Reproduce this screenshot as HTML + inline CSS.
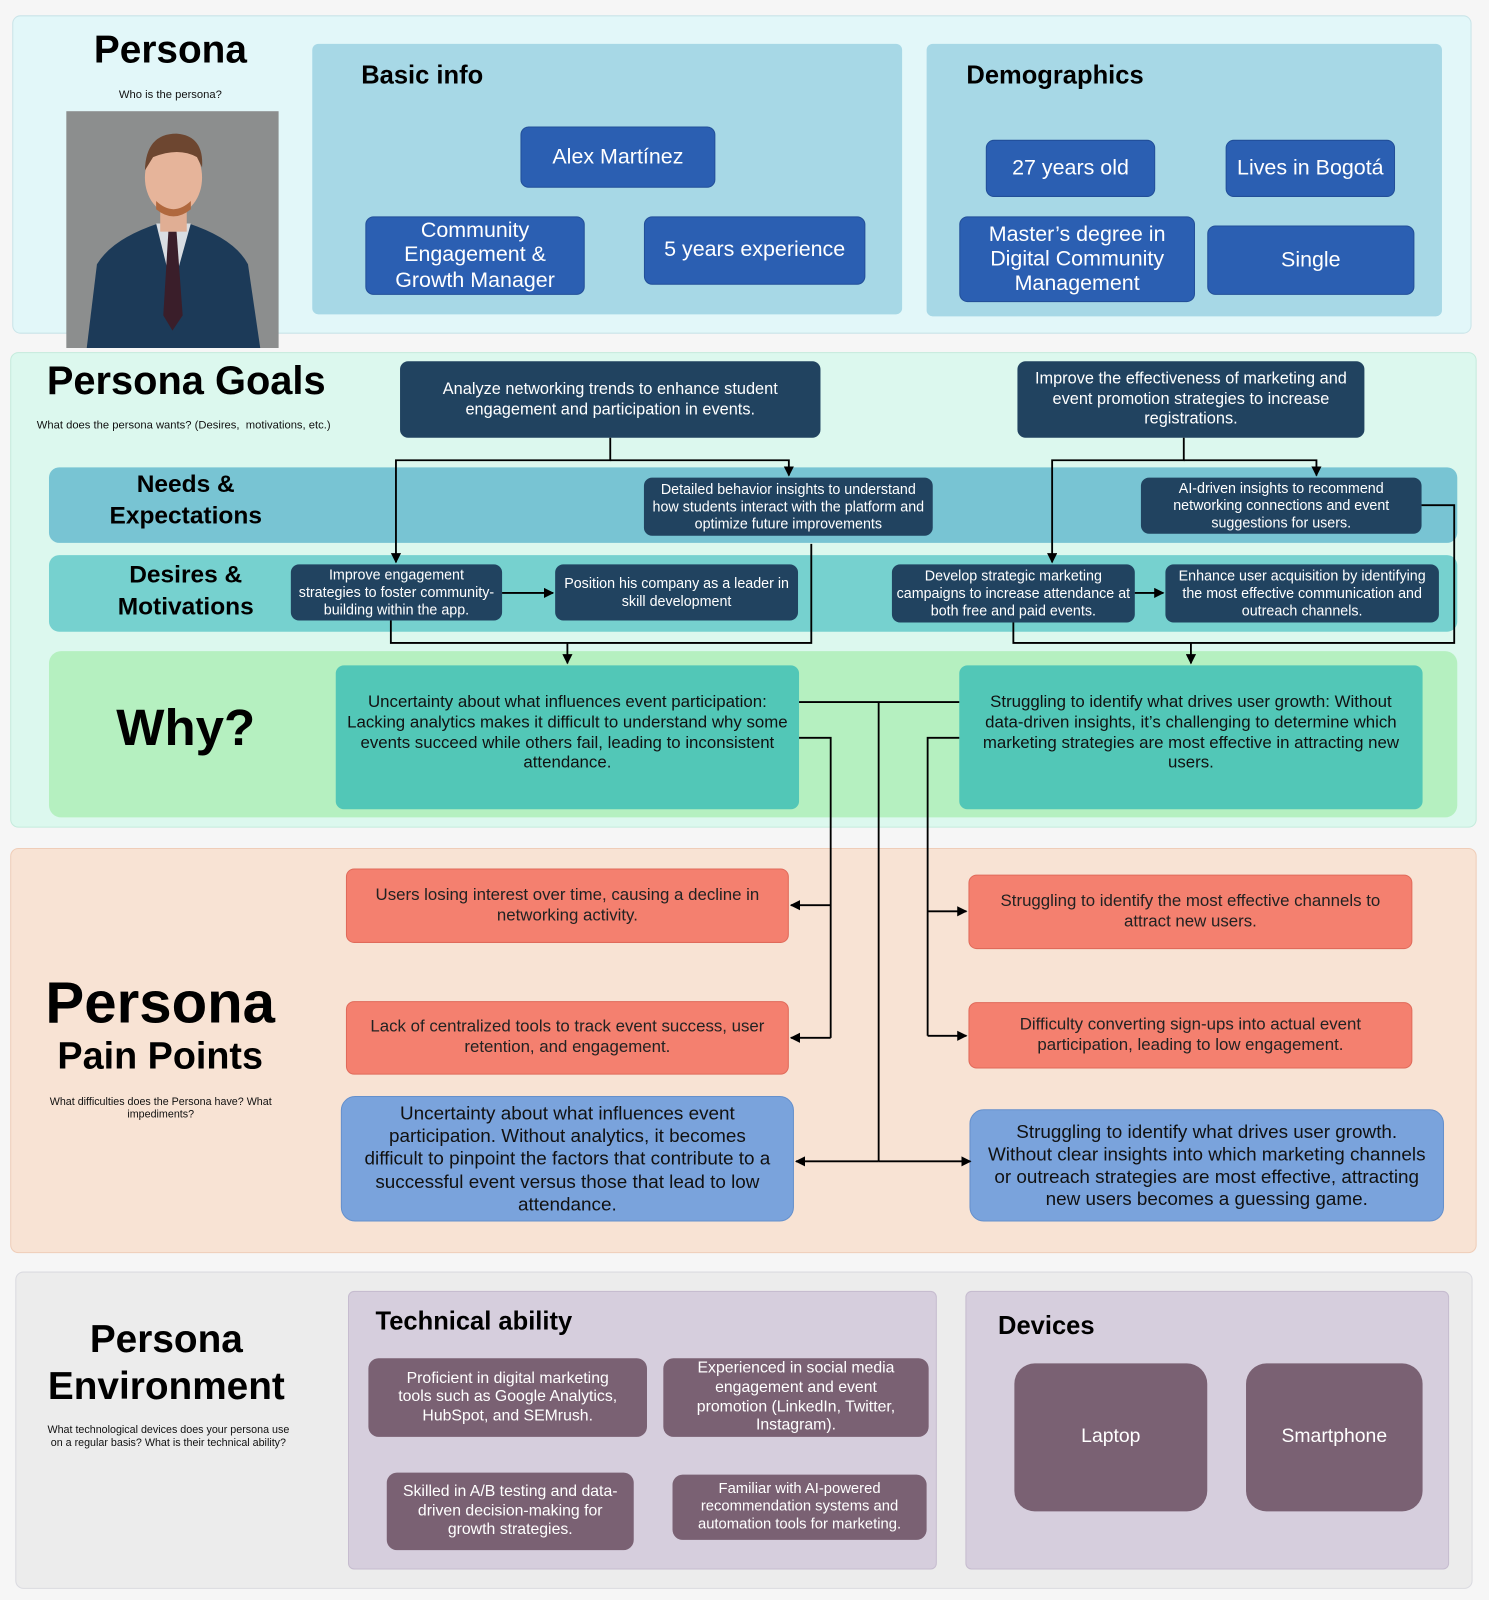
<!DOCTYPE html>
<html><head><meta charset="utf-8">
<style>
html,body{margin:0;padding:0;background:#f6f6f6;width:1489px;height:1600px;overflow:hidden}
#w{position:absolute;left:0;top:0;width:1459px;height:1568px;transform:scale(1.0205);transform-origin:0 0;font-family:"Liberation Sans",Tahoma,sans-serif}
.a{position:absolute;box-sizing:border-box}
.b{position:absolute;box-sizing:border-box;display:flex;align-items:center;justify-content:center;text-align:center;border-radius:8px;line-height:1.2}
.nv{background:#214360;color:#fff;font-size:14px;line-height:1.22}
.bl{background:#2b5fb2;color:#fff;font-size:21px;border:1px solid #224f99;line-height:1.15}
.rd{background:#f4806f;color:#222;font-size:16.5px;border:1px solid #e06a5a}
.bb{background:#7aa3dc;color:#111;font-size:18.5px;border:1px solid #6590cc;border-radius:14px}
.pu{background:#7a6173;color:#fff;font-size:15.5px;border-radius:10px}
.t{position:absolute;font-weight:bold;color:#000;white-space:nowrap}
.s{position:absolute;font-size:11px;color:#111;text-align:center}
</style></head><body><div id="w">
<!-- Persona -->
<div class="a" style="left:12px;top:15px;width:1430px;height:312px;background:#e2f7f9;border:1px solid #c9e4e8;border-radius:8px"></div>
<div class="t" style="left:67px;top:28px;width:200px;text-align:center;font-size:38px">Persona</div>
<div class="s" style="left:67px;top:87px;width:200px">Who is the persona?</div>
<div class="a" style="left:65px;top:109px;width:208px;height:232px;background:#8d8f8f;overflow:hidden">
<svg width="208" height="232" viewBox="0 0 208 232">
<rect width="208" height="232" fill="#8c8e8e"/>
<path d="M20 232 L30 150 Q45 125 90 110 L120 110 Q165 125 178 150 L190 232 Z" fill="#1c3a58"/>
<path d="M88 110 L104 175 L122 110 Z" fill="#d9dde2"/>
<path d="M100 118 L108 118 L114 200 L104 215 L95 200 Z" fill="#3a1e2a"/>
<rect x="92" y="90" width="26" height="28" fill="#e0ae94"/>
<ellipse cx="105" cy="65" rx="28" ry="36" fill="#e6b49a"/>
<path d="M77 58 Q78 22 108 22 Q135 24 133 55 L128 45 Q110 35 85 45 Z" fill="#6d4630"/>
<path d="M88 88 Q105 104 122 88 L122 96 Q105 110 88 96 Z" fill="#b0683e"/>
</svg></div>
<div class="a" style="left:306px;top:43px;width:578px;height:265px;background:#a7d8e6;border-radius:6px"></div>
<div class="t" style="left:354px;top:60px;font-size:25px">Basic info</div>
<div class="b bl" style="left:510px;top:124px;width:191px;height:60px">Alex Martínez</div>
<div class="b bl" style="left:358px;top:212px;width:215px;height:77px">Community<br>Engagement &amp;<br>Growth Manager</div>
<div class="b bl" style="left:631px;top:212px;width:217px;height:67px">5 years experience</div>
<div class="a" style="left:908px;top:43px;width:505px;height:267px;background:#a7d8e6;border-radius:6px"></div>
<div class="t" style="left:947px;top:60px;font-size:25px">Demographics</div>
<div class="b bl" style="left:966px;top:137px;width:166px;height:56px">27 years old</div>
<div class="b bl" style="left:1201px;top:137px;width:166px;height:56px">Lives in Bogotá</div>
<div class="b bl" style="left:940px;top:212px;width:231px;height:84px">Master’s degree in<br>Digital Community<br>Management</div>
<div class="b bl" style="left:1183px;top:221px;width:203px;height:68px">Single</div>

<!-- Goals -->
<div class="a" style="left:10px;top:345px;width:1437px;height:466px;background:#dcf8ee;border:1px solid #c4ebdc;border-radius:8px"></div>
<div class="t" style="left:30px;top:352px;width:305px;text-align:center;font-size:39px">Persona Goals</div>
<div class="s" style="left:20px;top:411px;width:320px;white-space:nowrap">What does the persona wants? (Desires,&nbsp; motivations, etc.)</div>
<div class="a" style="left:48px;top:458px;width:1380px;height:74px;background:#78c4d3;border-radius:10px"></div>
<div class="a" style="left:48px;top:544px;width:1380px;height:75px;background:#76d1cf;border-radius:10px"></div>
<div class="a" style="left:48px;top:638px;width:1380px;height:163px;background:#b5f0c0;border-radius:12px"></div>
<div class="t" style="left:82px;top:459px;width:200px;text-align:center;font-size:24px;line-height:31px">Needs &amp;<br>Expectations</div>
<div class="t" style="left:82px;top:548px;width:200px;text-align:center;font-size:24px;line-height:31px">Desires &amp;<br>Motivations</div>
<div class="t" style="left:82px;top:684px;width:200px;text-align:center;font-size:50px">Why?</div>
<div class="b nv" style="left:392px;top:354px;width:412px;height:75px;font-size:16px">Analyze networking trends to enhance student<br>engagement and participation in events.</div>
<div class="b nv" style="left:997px;top:354px;width:340px;height:75px;font-size:16px">Improve the effectiveness of marketing and<br>event promotion strategies to increase<br>registrations.</div>
<div class="b nv" style="left:631px;top:468px;width:283px;height:57px">Detailed behavior insights to understand<br>how students interact with the platform and<br>optimize future improvements</div>
<div class="b nv" style="left:1118px;top:468px;width:275px;height:55px">AI-driven insights to recommend<br>networking connections and event<br>suggestions for users.</div>
<div class="b nv" style="left:285px;top:553px;width:207px;height:55px">Improve engagement<br>strategies to foster community-<br>building within the app.</div>
<div class="b nv" style="left:544px;top:553px;width:238px;height:55px">Position his company as a leader in<br>skill development</div>
<div class="b nv" style="left:874px;top:553px;width:238px;height:57px">Develop strategic marketing<br>campaigns to increase attendance at<br>both free and paid events.</div>
<div class="b nv" style="left:1142px;top:553px;width:268px;height:57px">Enhance user acquisition by identifying<br>the most effective communication and<br>outreach channels.</div>
<div class="b" style="left:329px;top:652px;width:454px;height:141px;background:#52c7b7;font-size:16.5px;color:#111;padding-bottom:8px">Uncertainty about what influences event participation:<br>Lacking analytics makes it difficult to understand why some<br>events succeed while others fail, leading to inconsistent<br>attendance.</div>
<div class="b" style="left:940px;top:652px;width:454px;height:141px;background:#52c7b7;font-size:16.5px;color:#111;padding-bottom:8px">Struggling to identify what drives user growth: Without<br>data-driven insights, it’s challenging to determine which<br>marketing strategies are most effective in attracting new<br>users.</div>

<!-- Pain -->
<div class="a" style="left:10px;top:831px;width:1437px;height:397px;background:#f8e3d4;border:1px solid #efcdb8;border-radius:8px"></div>
<div class="t" style="left:17px;top:950px;width:280px;text-align:center;font-size:57px">Persona</div>
<div class="t" style="left:17px;top:1014px;width:280px;text-align:center;font-size:37px">Pain Points</div>
<div class="s" style="left:30px;top:1074px;width:255px;font-size:10.5px">What difficulties does the Persona have? What impediments?</div>
<div class="b rd" style="left:339px;top:851px;width:434px;height:73px">Users losing interest over time, causing a decline in<br>networking activity.</div>
<div class="b rd" style="left:339px;top:981px;width:434px;height:72px">Lack of centralized tools to track event success, user<br>retention, and engagement.</div>
<div class="b rd" style="left:949px;top:857px;width:435px;height:73px">Struggling to identify the most effective channels to<br>attract new users.</div>
<div class="b rd" style="left:949px;top:982px;width:435px;height:65px">Difficulty converting sign-ups into actual event<br>participation, leading to low engagement.</div>
<div class="b bb" style="left:334px;top:1074px;width:444px;height:123px">Uncertainty about what influences event<br>participation. Without analytics, it becomes<br>difficult to pinpoint the factors that contribute to a<br>successful event versus those that lead to low<br>attendance.</div>
<div class="b bb" style="left:950px;top:1087px;width:465px;height:110px">Struggling to identify what drives user growth.<br>Without clear insights into which marketing channels<br>or outreach strategies are most effective, attracting<br>new users becomes a guessing game.</div>

<!-- Environment -->
<div class="a" style="left:15px;top:1246px;width:1428px;height:311px;background:#ececec;border:1px solid #dadae0;border-radius:8px"></div>
<div class="t" style="left:23px;top:1290px;width:280px;text-align:center;font-size:38px;line-height:46px">Persona<br>Environment</div>
<div class="s" style="left:40px;top:1395px;width:250px;font-size:10.5px;line-height:13px">What technological devices does your persona use on a regular basis? What is their technical ability?</div>
<div class="a" style="left:341px;top:1265px;width:577px;height:273px;background:#d6cedd;border:1px solid #c6bccf;border-radius:6px"></div>
<div class="t" style="left:368px;top:1281px;font-size:25px">Technical ability</div>
<div class="b pu" style="left:361px;top:1331px;width:273px;height:77px">Proficient in digital marketing<br>tools such as Google Analytics,<br>HubSpot, and SEMrush.</div>
<div class="b pu" style="left:650px;top:1331px;width:260px;height:77px;line-height:1.22">Experienced in social media<br>engagement and event<br>promotion (LinkedIn, Twitter,<br>Instagram).</div>
<div class="b pu" style="left:379px;top:1443px;width:242px;height:76px">Skilled in A/B testing and data-<br>driven decision-making for<br>growth strategies.</div>
<div class="b pu" style="left:659px;top:1445px;width:249px;height:64px;font-size:14.5px">Familiar with AI-powered<br>recommendation systems and<br>automation tools for marketing.</div>
<div class="a" style="left:946px;top:1265px;width:474px;height:273px;background:#d6cedd;border:1px solid #c6bccf;border-radius:6px"></div>
<div class="t" style="left:978px;top:1285px;font-size:25px">Devices</div>
<div class="b pu" style="left:994px;top:1336px;width:189px;height:145px;font-size:19px;border-radius:20px">Laptop</div>
<div class="b pu" style="left:1221px;top:1336px;width:173px;height:145px;font-size:19px;border-radius:20px">Smartphone</div>

<!-- connectors -->
<svg class="a" style="left:0;top:0" width="1459" height="1568" viewBox="0 0 1459 1568">
<defs><marker id="m" markerWidth="10" markerHeight="10" refX="9" refY="5" orient="auto" markerUnits="userSpaceOnUse"><path d="M0,0 L10,5 L0,10 Z" fill="#000"/></marker></defs>
<g fill="none" stroke="#000" stroke-width="1.8">
<path d="M598 429 V451 H388 V551" marker-end="url(#m)"/>
<path d="M598 451 H773 V466" marker-end="url(#m)"/>
<path d="M1160 429 V451 H1031 V551" marker-end="url(#m)"/>
<path d="M1160 451 H1290 V466" marker-end="url(#m)"/>
<path d="M492 581 H542" marker-end="url(#m)"/>
<path d="M1112 581 H1140" marker-end="url(#m)"/>
<path d="M383 608 V630 H795 V533"/>
<path d="M556 630 V650" marker-end="url(#m)"/>
<path d="M993 610 V630 H1425 V495 H1393"/>
<path d="M1167 630 V650" marker-end="url(#m)"/>
<path d="M783 688 H940"/>
<path d="M861 688 V1138"/>
<path d="M861 1138 H780" marker-end="url(#m)"/>
<path d="M861 1138 H951" marker-end="url(#m)"/>
<path d="M783 723 H814 V1017"/>
<path d="M814 887 H775" marker-end="url(#m)"/>
<path d="M814 1017 H775" marker-end="url(#m)"/>
<path d="M940 723 H909 V1015"/>
<path d="M909 893 H947" marker-end="url(#m)"/>
<path d="M909 1015 H947" marker-end="url(#m)"/>
</g></svg>
</div></body></html>
